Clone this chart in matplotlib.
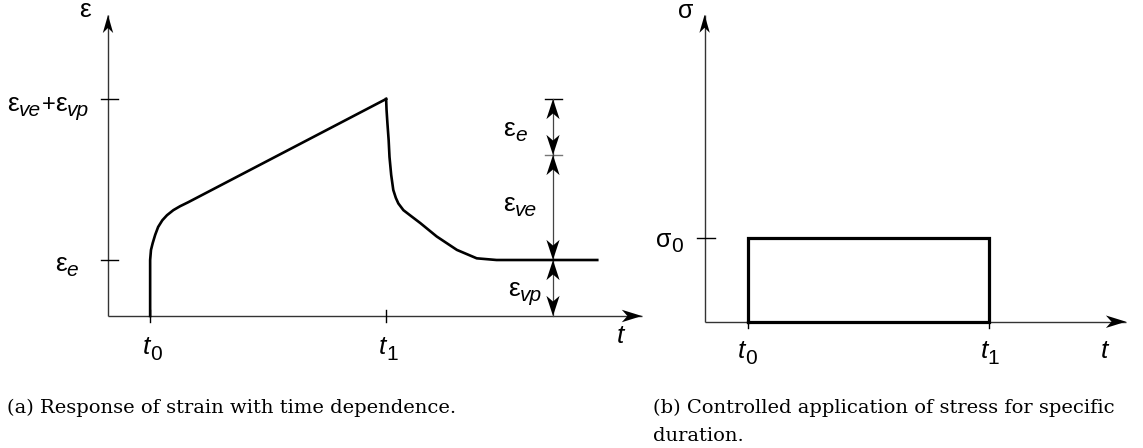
import matplotlib
matplotlib.use("Agg")
import matplotlib.pyplot as plt
from matplotlib.patches import Polygon
from matplotlib.transforms import Affine2D, ScaledTranslation
from matplotlib.font_manager import FontProperties

# ---- strain response (creep under load, then recovery) ----
T0, T1 = 1.0, 6.6
EPS_E, EPS_VE, EPS_VP = 1.0, 1.875, 1.0
EPS_PEAK = EPS_E + EPS_VE + EPS_VP

# loading branch: instantaneous elastic jump, primary creep, secondary creep
creep_t = [1.00, 1.00, 1.02, 1.06, 1.12, 1.19, 1.29, 1.40, 1.55, 1.71, 1.90, 6.60]
creep_eps = [0.00, 1.00, 1.18, 1.30, 1.45, 1.59, 1.71, 1.80, 1.89, 1.96, 2.03, 3.875]

# unloading branch: elastic drop then delayed viscoelastic recovery
recov_t = [6.60, 6.61, 6.63, 6.66, 6.68, 6.72, 6.77, 6.83, 6.89, 7.01, 7.20, 7.41,
           7.80, 8.28, 8.75, 9.22, 11.61]
recov_eps = [3.875, 3.68, 3.45, 3.14, 2.84, 2.52, 2.25, 2.11, 2.01, 1.89, 1.78, 1.66,
             1.42, 1.18, 1.03, 1.00, 1.00]

strain_ticks = [EPS_E, EPS_PEAK]
# label pieces: (text, role) with role "main", "sub" or "op"
strain_tick_labels = [[("ε", "main"), ("e", "sub")],
                      [("ε", "main"), ("ve", "sub"), ("+", "op"),
                       ("ε", "main"), ("vp", "sub")]]

# ---- applied stress ----
SIGMA0 = 1.0
stress_t = [T0, T0, T1, T1, T0]
stress_val = [0.0, SIGMA0, SIGMA0, 0.0, 0.0]

FONT = "Liberation Sans"
AX_COLOR = "#333333"
W, H, DPI = 1143, 448, 100

fig = plt.figure(figsize=(W / DPI, H / DPI), dpi=DPI)
renderer = fig.canvas.get_renderer()


def px_axes(x0, y_bottom, width, height):
    """Add an axes given in pixel units measured from the top-left corner."""
    return fig.add_axes([x0 / W, (H - y_bottom) / H, width / W, height / H])


def arrow_head(ax, x, y, angle, length=14.0, width=9.0, color="black"):
    """Notched (stealth-like) arrow head with its tip at data point (x, y)."""
    verts = [(0, 0), (-length, width / 2), (-0.72 * length, 0), (-length, -width / 2)]
    tr = (Affine2D().rotate_deg(angle).scale(1 / 72.0) + fig.dpi_scale_trans
          + ScaledTranslation(x, y, ax.transData))
    ax.add_patch(Polygon(verts, closed=True, transform=tr, facecolor=color,
                         edgecolor="none", clip_on=False, zorder=5))


def label(ax, x, y, pieces, ha="left", size=19, sub_size=15, op_size=17,
          drop=3.6, main_style="normal", sub_style="italic"):
    """Baseline-anchored label built from main, operator and subscript pieces."""
    parts = []
    for txt, role in pieces:
        if role == "sub":
            prop = FontProperties(family=FONT, size=sub_size, style=sub_style)
            dy = -drop
        elif role == "op":
            prop = FontProperties(family=FONT, size=op_size, style="normal")
            dy = 0.0
        else:
            prop = FontProperties(family=FONT, size=size, style=main_style)
            dy = 0.0
        w, _, _ = renderer.get_text_width_height_descent(txt, prop, ismath=False)
        parts.append((txt, prop, w * 72.0 / DPI, dy))
    total = sum(p[2] for p in parts)
    ox = {"left": 0.0, "center": -total / 2, "right": -total}[ha]
    for txt, prop, w, dy in parts:
        ax.annotate(txt, xy=(x, y), xycoords="data", xytext=(ox, dy),
                    textcoords="offset points", ha="left", va="baseline",
                    fontproperties=prop, annotation_clip=False)
        ox += w


def draw_axes_arrows(ax, xmax, ymax):
    ax.plot([0, xmax], [0, 0], color=AX_COLOR, lw=1.0, clip_on=False,
            solid_capstyle="butt")
    ax.plot([0, 0], [0, ymax], color=AX_COLOR, lw=1.0, clip_on=False,
            solid_capstyle="butt")
    arrow_head(ax, xmax, 0, 0, length=14.5, width=9.0)
    arrow_head(ax, 0, ymax, 90, length=13.0, width=7.5)


# ================= left panel: strain =================
sx = 42.14   # px per time unit
sy = 56.0    # px per strain unit
XMAX_L, YMAX_L = 12.67, 5.375
axL = px_axes(108, 316, XMAX_L * sx, YMAX_L * sy)
axL.set_xlim(0, XMAX_L)
axL.set_ylim(0, YMAX_L)
axL.axis("off")

draw_axes_arrows(axL, XMAX_L, YMAX_L)

axL.plot(creep_t, creep_eps, color="black", lw=1.9, clip_on=False,
         solid_joinstyle="round", zorder=4)
axL.plot(recov_t, recov_eps, color="black", lw=1.9, clip_on=False,
         solid_joinstyle="round", zorder=4)

for v in strain_ticks:
    axL.plot([-0.17, 0.24], [v, v], color="black", lw=1.0, clip_on=False)
for tt in (T0, T1):
    axL.plot([tt, tt], [-0.11, 0.11], color="black", lw=1.0, clip_on=False)

label(axL, -0.45, 3.66, strain_tick_labels[1], ha="right")
label(axL, -0.71, 0.80, strain_tick_labels[0], ha="right")
label(axL, -0.55, 5.34, [("ε", "main")], ha="center")

label(axL, 1.05, -0.68, [("t", "main"), ("0", "sub")], ha="center",
      main_style="italic", sub_style="normal", drop=4.0)
label(axL, 6.65, -0.68, [("t", "main"), ("1", "sub")], ha="center",
      main_style="italic", sub_style="normal", drop=4.0)
label(axL, 12.17, -0.48, [("t", "main")], ha="center", main_style="italic")

# strain components as dimension arrows
XA = 10.56
levels = [0.0, EPS_VP, EPS_VP + EPS_VE, EPS_PEAK]
for v, c in ((EPS_PEAK, "black"), (EPS_VP + EPS_VE, "#777777")):
    axL.plot([XA - 0.19, XA + 0.21], [v, v], color=c, lw=1.0, clip_on=False)
for lo, hi in zip(levels[:-1], levels[1:]):
    axL.plot([XA, XA], [lo, hi], color="#444444", lw=0.9, clip_on=False)
    arrow_head(axL, XA, hi, 90, length=14.5, width=9.5)
    arrow_head(axL, XA, lo, -90, length=14.5, width=9.5)

label(axL, 9.38, 3.22, [("ε", "main"), ("e", "sub")])
label(axL, 9.38, 1.88, [("ε", "main"), ("ve", "sub")])
label(axL, 9.50, 0.36, [("ε", "main"), ("vp", "sub")])

# ================= right panel: stress =================
rx = 43.09
ry = 83.4
XMAX_R, YMAX_R = 9.78, 3.68
axR = px_axes(704.6, 321.7, XMAX_R * rx, YMAX_R * ry)
axR.set_xlim(0, XMAX_R)
axR.set_ylim(0, YMAX_R)
axR.axis("off")

draw_axes_arrows(axR, XMAX_R, YMAX_R)
axR.plot(stress_t, stress_val, color="black", lw=2.3, clip_on=False,
         solid_joinstyle="miter", zorder=4)
axR.plot([-0.18, 0.24], [SIGMA0, SIGMA0], color="black", lw=1.0, clip_on=False)
for tt in (T0, T1):
    axR.plot([tt, tt], [-0.08, 0.08], color="black", lw=1.0, clip_on=False)

label(axR, -0.45, 3.64, [("σ", "main")], ha="center", size=18)
label(axR, -0.50, 0.90, [("σ", "main"), ("0", "sub")], ha="right", size=18,
      sub_style="normal", drop=4.0)
label(axR, 1.0, -0.44, [("t", "main"), ("0", "sub")], ha="center",
      main_style="italic", sub_style="normal", drop=4.0)
label(axR, 6.62, -0.44, [("t", "main"), ("1", "sub")], ha="center",
      main_style="italic", sub_style="normal", drop=4.0)
label(axR, 9.29, -0.44, [("t", "main")], ha="center", main_style="italic")

# ================= captions =================
CAP = dict(family="DejaVu Serif", fontsize=14, ha="left", va="baseline")
fig.text(7 / W, 1 - 413 / H, "(a) Response of strain with time dependence.", **CAP)
fig.text(653 / W, 1 - 413 / H, "(b) Controlled application of stress for specific", **CAP)
fig.text(653 / W, 1 - 441 / H, "duration.", **CAP)

fig.savefig("out.png", dpi=DPI)
